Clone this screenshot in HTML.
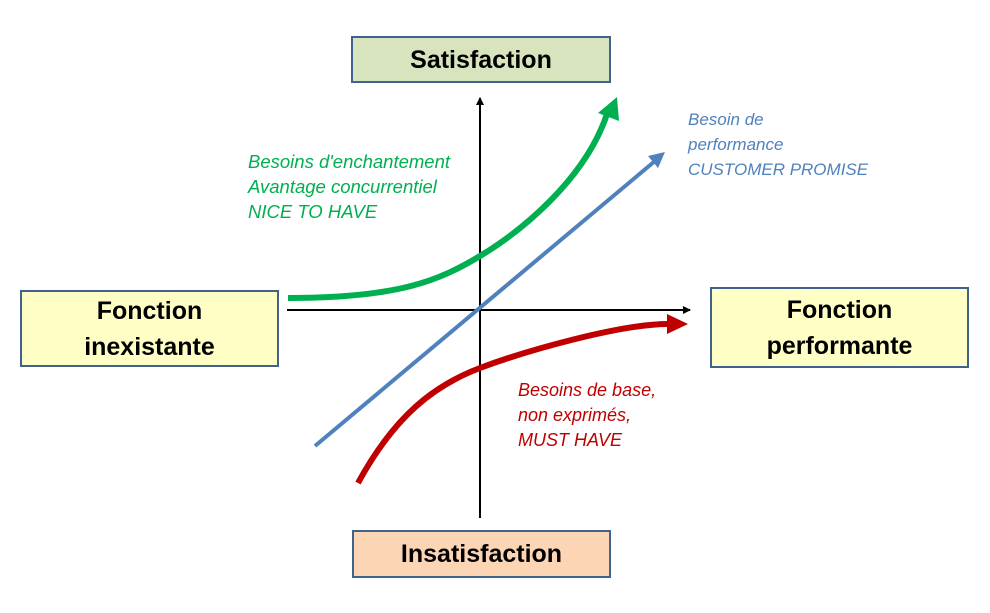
<!DOCTYPE html>
<html><head><style>
body{margin:0;width:990px;height:613px;background:#fff;overflow:hidden;position:relative;font-family:"Liberation Sans",sans-serif}
.b{position:absolute;border:2px solid #41618f;box-sizing:border-box;display:flex;align-items:center;justify-content:center;text-align:center;font-weight:bold;font-size:25px;color:#000;line-height:36px}
.t{position:absolute;font-style:italic;font-size:17px;line-height:25px}
</style></head><body>
<svg width="990" height="613" style="position:absolute;left:0;top:0">
<defs>
<marker id="k" markerWidth="8" markerHeight="8" refX="7" refY="4" orient="auto" markerUnits="userSpaceOnUse"><path d="M0,0L8,4L0,8z" fill="#000"/></marker>
</defs>
<line x1="480" y1="518" x2="480" y2="98" stroke="#000" stroke-width="2" marker-end="url(#k)"/>
<line x1="287" y1="310" x2="690" y2="310" stroke="#000" stroke-width="2" marker-end="url(#k)"/>
<path d="M288,298 C400,298 440,280 480,256 S585,180 607,114" fill="none" stroke="#00b050" stroke-width="6"/>
<path d="M617,97 L619,121 L598,113 z" fill="#00b050"/>
<line x1="315" y1="446" x2="655" y2="161" stroke="#4f81bd" stroke-width="4"/>
<path d="M665,152 L658,168 L648,156 z" fill="#4f81bd"/>
<path d="M358,483 C395,415 435,385 480,368 S620,324 668,324" fill="none" stroke="#c00000" stroke-width="6"/>
<path d="M688,324 L667,314 L667,334 z" fill="#c00000"/>
</svg>
<div class="b" style="left:351px;top:36px;width:260px;height:47px;background:#d7e4bd">Satisfaction</div>
<div class="b" style="left:20px;top:290px;width:259px;height:77px;background:#ffffc5">Fonction<br>inexistante</div>
<div class="b" style="left:710px;top:287px;width:259px;height:81px;background:#ffffc5">Fonction<br>performante</div>
<div class="b" style="left:352px;top:530px;width:259px;height:48px;background:#fcd5b5">Insatisfaction</div>
<div class="t" style="left:248px;top:149px;color:#00b050;font-size:18.5px">Besoins d'enchantement<br>Avantage concurrentiel<br>NICE TO HAVE</div>
<div class="t" style="left:688px;top:107px;color:#4f81bd">Besoin de<br>performance<br>CUSTOMER PROMISE</div>
<div class="t" style="left:518px;top:378px;color:#c00000;font-size:18px">Besoins de base,<br>non exprimés,<br>MUST HAVE</div>
</body></html>
